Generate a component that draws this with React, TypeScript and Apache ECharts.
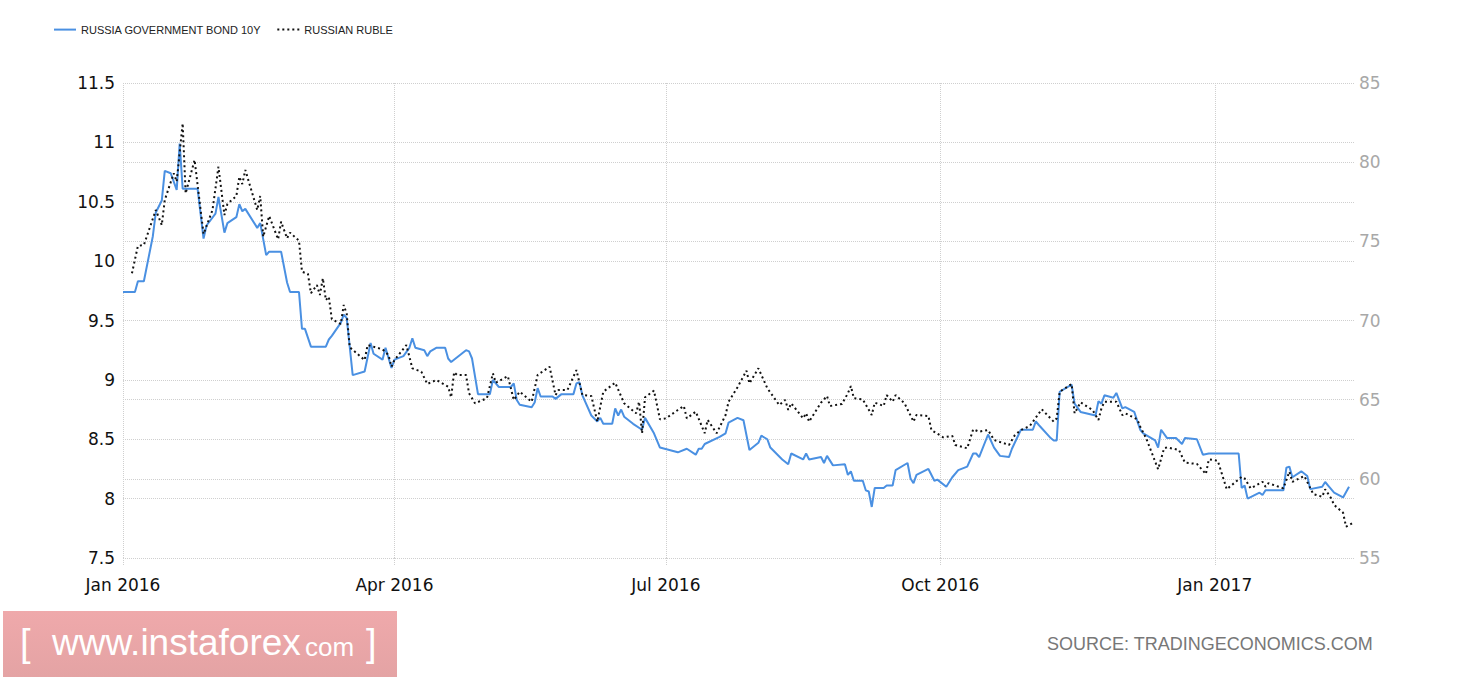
import React, { useEffect, useRef } from 'react';
import * as echarts from 'echarts';

const bondName = 'RUSSIA GOVERNMENT BOND 10Y';
const rubleName = 'RUSSIAN RUBLE';

const bondDates = [
  '2016-01-01','2016-01-05','2016-01-06','2016-01-08','2016-01-11','2016-01-12','2016-01-14','2016-01-15','2016-01-17','2016-01-19',
  '2016-01-20','2016-01-21','2016-01-26','2016-01-28','2016-01-29','2016-02-01','2016-02-02','2016-02-04','2016-02-05','2016-02-08',
  '2016-02-09','2016-02-10','2016-02-11','2016-02-15','2016-02-16','2016-02-18','2016-02-19','2016-02-23','2016-02-25','2016-02-26',
  '2016-02-29','2016-03-01','2016-03-02','2016-03-04','2016-03-09','2016-03-10','2016-03-11','2016-03-14','2016-03-15','2016-03-16',
  '2016-03-18','2016-03-22','2016-03-24','2016-03-25','2016-03-28','2016-03-29','2016-03-31','2016-04-01','2016-04-04','2016-04-06',
  '2016-04-07','2016-04-08','2016-04-11','2016-04-12','2016-04-13','2016-04-15','2016-04-18','2016-04-19','2016-04-20','2016-04-25',
  '2016-04-26','2016-04-27','2016-04-29','2016-05-03','2016-05-04','2016-05-06','2016-05-10','2016-05-11','2016-05-12','2016-05-13',
  '2016-05-17','2016-05-18','2016-05-19','2016-05-20','2016-05-24','2016-05-25','2016-05-27','2016-05-31','2016-06-01','2016-06-02',
  '2016-06-03','2016-06-06','2016-06-08','2016-06-09','2016-06-10','2016-06-13','2016-06-14','2016-06-15','2016-06-16','2016-06-17',
  '2016-06-20','2016-06-23','2016-06-24','2016-06-27','2016-06-29','2016-07-05','2016-07-08','2016-07-11','2016-07-12','2016-07-13',
  '2016-07-14','2016-07-19','2016-07-21','2016-07-22','2016-07-25','2016-07-27','2016-07-29','2016-08-01','2016-08-02','2016-08-04',
  '2016-08-05','2016-08-09','2016-08-11','2016-08-12','2016-08-16','2016-08-17','2016-08-18','2016-08-22','2016-08-23','2016-08-24',
  '2016-08-26','2016-08-30','2016-08-31','2016-09-01','2016-09-02','2016-09-05','2016-09-06','2016-09-07','2016-09-08','2016-09-09',
  '2016-09-12','2016-09-13','2016-09-15','2016-09-16','2016-09-20','2016-09-21','2016-09-22','2016-09-23','2016-09-27','2016-09-29',
  '2016-09-30','2016-10-03','2016-10-05','2016-10-07','2016-10-10','2016-10-12','2016-10-13','2016-10-14','2016-10-17','2016-10-19',
  '2016-10-21','2016-10-24','2016-10-25','2016-10-28','2016-11-01','2016-11-02','2016-11-03','2016-11-07','2016-11-08','2016-11-09',
  '2016-11-10','2016-11-14','2016-11-15','2016-11-17','2016-11-22','2016-11-23','2016-11-24','2016-11-25','2016-11-28','2016-11-29',
  '2016-12-01','2016-12-02','2016-12-05','2016-12-07','2016-12-08','2016-12-12','2016-12-13','2016-12-14','2016-12-16','2016-12-19',
  '2016-12-21','2016-12-22','2016-12-26','2016-12-28','2016-12-30','2017-01-09','2017-01-10','2017-01-11','2017-01-12','2017-01-16',
  '2017-01-17','2017-01-18','2017-01-24','2017-01-25','2017-01-26','2017-01-27','2017-01-30','2017-02-01','2017-02-02','2017-02-06',
  '2017-02-07','2017-02-08','2017-02-10','2017-02-13','2017-02-15'
];
const bondValues = [
  9.74, 9.74, 9.83, 9.83, 10.21, 10.41, 10.51, 10.76, 10.74, 10.60,
  10.99, 10.61, 10.61, 10.19, 10.30, 10.40, 10.54, 10.24, 10.32, 10.37,
  10.48, 10.42, 10.44, 10.28, 10.32, 10.05, 10.08, 10.08, 9.82, 9.74,
  9.74, 9.43, 9.43, 9.28, 9.28, 9.34, 9.37, 9.48, 9.55, 9.52,
  9.04, 9.07, 9.31, 9.22, 9.17, 9.27, 9.10, 9.17, 9.20, 9.27,
  9.35, 9.27, 9.25, 9.20, 9.24, 9.27, 9.27, 9.18, 9.15, 9.25,
  9.24, 9.18, 8.88, 8.88, 9.00, 8.94, 8.94, 8.97, 8.83, 8.79,
  8.77, 8.81, 8.93, 8.86, 8.86, 8.84, 8.88, 8.88, 8.97, 8.98,
  8.87, 8.70, 8.65, 8.68, 8.63, 8.63, 8.76, 8.70, 8.75, 8.69,
  8.63, 8.58, 8.68, 8.55, 8.43, 8.39, 8.42, 8.37, 8.42, 8.42,
  8.46, 8.52, 8.55, 8.64, 8.68, 8.66, 8.41, 8.47, 8.53, 8.50,
  8.43, 8.33, 8.29, 8.38, 8.33, 8.38, 8.33, 8.35, 8.30, 8.36,
  8.28, 8.29, 8.20, 8.23, 8.15, 8.15, 8.07, 8.06, 7.93, 8.09,
  8.09, 8.11, 8.11, 8.24, 8.30, 8.17, 8.13, 8.20, 8.25, 8.15,
  8.16, 8.10, 8.18, 8.24, 8.27, 8.38, 8.38, 8.35, 8.54, 8.43,
  8.36, 8.35, 8.42, 8.58, 8.58, 8.65, 8.62, 8.51, 8.49, 8.49,
  8.90, 8.96, 8.80, 8.73, 8.70, 8.82, 8.80, 8.87, 8.85, 8.89,
  8.76, 8.77, 8.73, 8.58, 8.55, 8.49, 8.43, 8.58, 8.51, 8.51,
  8.46, 8.51, 8.50, 8.37, 8.38, 8.38, 8.09, 8.11, 8.00, 8.05,
  8.03, 8.07, 8.07, 8.26, 8.27, 8.18, 8.23, 8.19, 8.08, 8.10,
  8.14, 8.11, 8.05, 8.01, 8.10
];

const rubleDates = [
  '2016-01-04','2016-01-06','2016-01-08','2016-01-12','2016-01-14','2016-01-15','2016-01-18','2016-01-19','2016-01-21','2016-01-22',
  '2016-01-25','2016-01-28','2016-01-31','2016-02-02','2016-02-04','2016-02-05','2016-02-08','2016-02-09','2016-02-10','2016-02-11',
  '2016-02-15','2016-02-16','2016-02-17','2016-02-19','2016-02-22','2016-02-23','2016-02-25','2016-02-26','2016-02-29','2016-03-01',
  '2016-03-03','2016-03-04','2016-03-06','2016-03-07','2016-03-08','2016-03-09','2016-03-10','2016-03-11','2016-03-14','2016-03-15',
  '2016-03-16','2016-03-17','2016-03-22','2016-03-23','2016-03-28','2016-03-30','2016-03-31','2016-04-01','2016-04-05','2016-04-07',
  '2016-04-10','2016-04-12','2016-04-15','2016-04-19','2016-04-20','2016-04-21','2016-04-22','2016-04-25','2016-04-26','2016-04-28',
  '2016-05-02','2016-05-04','2016-05-05','2016-05-09','2016-05-11','2016-05-13','2016-05-17','2016-05-19','2016-05-23','2016-05-25',
  '2016-05-26','2016-05-29','2016-06-01','2016-06-03','2016-06-06','2016-06-08','2016-06-10','2016-06-14','2016-06-17','2016-06-21',
  '2016-06-22','2016-06-23','2016-06-24','2016-06-27','2016-06-29','2016-07-01','2016-07-05','2016-07-07','2016-07-08','2016-07-11',
  '2016-07-14','2016-07-15','2016-07-18','2016-07-21','2016-07-22','2016-07-25','2016-07-28','2016-07-29','2016-08-01','2016-08-04',
  '2016-08-08','2016-08-10','2016-08-11','2016-08-12','2016-08-16','2016-08-17','2016-08-18','2016-08-22','2016-08-24','2016-08-25',
  '2016-08-29','2016-08-31','2016-09-01','2016-09-02','2016-09-05','2016-09-08','2016-09-09','2016-09-12','2016-09-13','2016-09-15',
  '2016-09-16','2016-09-19','2016-09-22','2016-09-23','2016-09-27','2016-09-28','2016-10-02','2016-10-05','2016-10-06','2016-10-10',
  '2016-10-12','2016-10-14','2016-10-17','2016-10-19','2016-10-24','2016-10-26','2016-10-28','2016-10-31','2016-11-04','2016-11-08',
  '2016-11-09','2016-11-10','2016-11-14','2016-11-15','2016-11-17','2016-11-21','2016-11-23','2016-11-24','2016-11-25','2016-11-29',
  '2016-12-01','2016-12-02','2016-12-06','2016-12-07','2016-12-09','2016-12-13','2016-12-15','2016-12-16','2016-12-20','2016-12-22',
  '2016-12-26','2016-12-29','2016-12-30','2017-01-02','2017-01-05','2017-01-10','2017-01-11','2017-01-13','2017-01-17','2017-01-18',
  '2017-01-19','2017-01-24','2017-01-26','2017-01-27','2017-01-31','2017-02-03','2017-02-06','2017-02-07','2017-02-09','2017-02-10',
  '2017-02-13','2017-02-14','2017-02-16'
];
const rubleValues = [
  72.98, 74.71, 74.77, 76.98, 76.03, 77.61, 79.30, 78.77, 82.45, 78.03,
  80.14, 75.46, 76.98, 79.71, 76.66, 77.36, 77.86, 79.08, 78.62, 79.51,
  76.98, 77.86, 75.29, 76.60, 75.13, 76.24, 75.19, 75.55, 75.04, 73.08,
  72.94, 71.72, 72.24, 71.61, 72.67, 71.29, 71.50, 70.08, 69.78, 70.98,
  70.41, 68.31, 67.50, 68.45, 68.18, 67.82, 67.08, 67.50, 68.45, 66.98,
  66.77, 65.99, 66.24, 65.82, 65.15, 66.73, 66.56, 66.56, 65.40, 64.77,
  65.09, 66.66, 66.07, 66.49, 64.98, 65.50, 64.87, 66.56, 67.08, 65.29,
  65.61, 65.61, 66.87, 65.29, 65.23, 63.61, 65.50, 66.07, 64.77, 64.14,
  64.87, 62.88, 65.15, 65.57, 63.76, 63.82, 64.35, 64.60, 63.82, 64.24,
  62.88, 63.72, 62.88, 64.03, 64.87, 65.78, 66.83, 66.03, 66.98, 65.72,
  64.66, 64.98, 64.35, 64.77, 63.82, 64.14, 63.61, 64.81, 65.23, 64.60,
  64.73, 65.40, 65.86, 65.09, 65.02, 64.03, 64.81, 64.60, 65.29, 64.87,
  65.29, 64.77, 63.61, 64.03, 63.97, 63.08, 62.62, 62.71, 62.14, 61.93,
  63.13, 62.98, 63.08, 62.45, 62.14, 62.77, 63.08, 63.34, 64.39, 63.61,
  63.82, 65.50, 65.99, 64.14, 64.83, 64.35, 63.72, 64.45, 64.87, 64.87,
  64.03, 64.14, 63.76, 63.29, 62.56, 60.60, 61.93, 61.99, 61.82, 61.02,
  60.94, 60.30, 61.23, 61.14, 59.34, 60.13, 60.03, 59.40, 59.81, 59.50,
  59.72, 59.40, 60.45, 59.81, 60.18, 59.04, 58.87, 59.34, 58.77, 58.35,
  57.86, 56.98, 57.19
];

const xTickDates = ['2016-01-01', '2016-04-01', '2016-07-01', '2016-10-01', '2017-01-01'];
const xRange = ['2016-01-01', '2017-02-17'];
const leftAxis = { min: 7.5, max: 11.5, interval: 0.5 };
const rightAxis = { min: 55, max: 85, interval: 5 };
const monthNames = ['Jan', 'Feb', 'Mar', 'Apr', 'May', 'Jun', 'Jul', 'Aug', 'Sep', 'Oct', 'Nov', 'Dec'];

function toTime(s: string): number {
  const [y, m, d] = s.split('-').map(Number);
  return new Date(y, m - 1, d).getTime();
}

export default function App() {
  const ref = useRef<HTMLDivElement>(null);

  useEffect(() => {
    if (!ref.current) return;
    const chart = echarts.init(ref.current, null, { renderer: 'svg' });
    const gridColor = '#cfcfcf';
    const tickTimes = xTickDates.map(toTime);

    chart.setOption({
      animation: false,
      backgroundColor: '#ffffff',
      legend: {
        left: 53,
        top: 24,
        padding: 0,
        itemWidth: 22,
        itemHeight: 14,
        itemGap: 15,
        itemStyle: { opacity: 0, borderWidth: 0 },
        textStyle: { fontFamily: 'Liberation Sans', fontSize: 11, color: '#222' },
        data: [bondName, rubleName],
      },
      grid: { left: 123, right: 105, top: 83, bottom: 122 },
      xAxis: {
        type: 'value',
        min: toTime(xRange[0]),
        max: toTime(xRange[1]),
        axisLine: { show: false },
        axisTick: {
          show: true,
          length: 7,
          customValues: tickTimes,
          lineStyle: { color: gridColor, type: 'dotted' },
        },
        splitLine: { show: false },
        axisLabel: {
          customValues: tickTimes,
          margin: 18,
          fontFamily: 'DejaVu Sans',
          fontSize: 17,
          color: '#111',
          hideOverlap: false,
          formatter: (v: number) => {
            const d = new Date(v);
            return monthNames[d.getMonth()] + ' ' + d.getFullYear();
          },
        },
      },
      yAxis: [
        {
          type: 'value',
          position: 'left',
          min: leftAxis.min,
          max: leftAxis.max,
          interval: leftAxis.interval,
          axisLine: { show: false },
          axisTick: { show: false },
          axisLabel: { fontFamily: 'DejaVu Sans', fontSize: 17, color: '#111', margin: 8 },
          splitLine: { show: true, lineStyle: { color: gridColor, type: 'dotted' } },
        },
        {
          type: 'value',
          position: 'right',
          min: rightAxis.min,
          max: rightAxis.max,
          interval: rightAxis.interval,
          axisLine: { show: false },
          axisTick: { show: false },
          axisLabel: { fontFamily: 'DejaVu Sans', fontSize: 17, color: '#a8a8a8', margin: 4 },
          splitLine: { show: true, lineStyle: { color: gridColor, type: 'dotted' } },
        },
      ],
      series: [
        {
          name: bondName,
          type: 'line',
          yAxisIndex: 0,
          symbol: 'none',
          showSymbol: false,
          z: 3,
          color: '#4a90e2',
          lineStyle: { color: '#4a90e2', width: 2 },
          data: bondDates.map((d, i) => [toTime(d), bondValues[i]]),
          markLine: {
            silent: true,
            symbol: ['none', 'none'],
            label: { show: false },
            z: 1,
            lineStyle: { color: gridColor, type: 'dotted', width: 1 },
            data: tickTimes.map((t) => ({ xAxis: t })),
          },
        },
        {
          name: rubleName,
          type: 'line',
          yAxisIndex: 1,
          symbol: 'none',
          showSymbol: false,
          z: 4,
          color: '#111111',
          lineStyle: { color: '#111111', width: 2, type: [2, 3] },
          data: rubleDates.map((d, i) => [toTime(d), rubleValues[i]]),
        },
      ],
      graphic: [
        {
          type: 'rect',
          left: 3,
          top: 611,
          shape: { width: 394, height: 66 },
          style: {
            fill: new echarts.graphic.LinearGradient(0, 0, 0, 1, [
              { offset: 0, color: '#efa9ab' },
              { offset: 1, color: '#e4a3a4' },
            ]),
          },
        },
        {
          type: 'text',
          left: 20,
          top: 624,
          style: { text: '[', fill: '#ffffff', font: '38px "Liberation Sans"' },
        },
        {
          type: 'text',
          left: 52,
          top: 624,
          style: { text: 'www.instaforex', fill: '#ffffff', font: '37px "Liberation Sans"' },
        },
        {
          type: 'text',
          left: 305,
          top: 634,
          style: { text: 'com', fill: '#ffffff', font: '26px "Liberation Sans"' },
        },
        {
          type: 'text',
          left: 366,
          top: 624,
          style: { text: ']', fill: '#ffffff', font: '38px "Liberation Sans"' },
        },
        {
          type: 'text',
          right: 87,
          top: 635,
          style: { text: 'SOURCE: TRADINGECONOMICS.COM', fill: '#777777', font: '18px "Liberation Sans"' },
        },
      ],
    });

    return () => {
      chart.dispose();
    };
  }, []);

  return (
    <div
      ref={ref}
      style={{ position: 'fixed', left: 0, top: 0, width: '1460px', height: '680px', background: '#fff' }}
    />
  );
}
